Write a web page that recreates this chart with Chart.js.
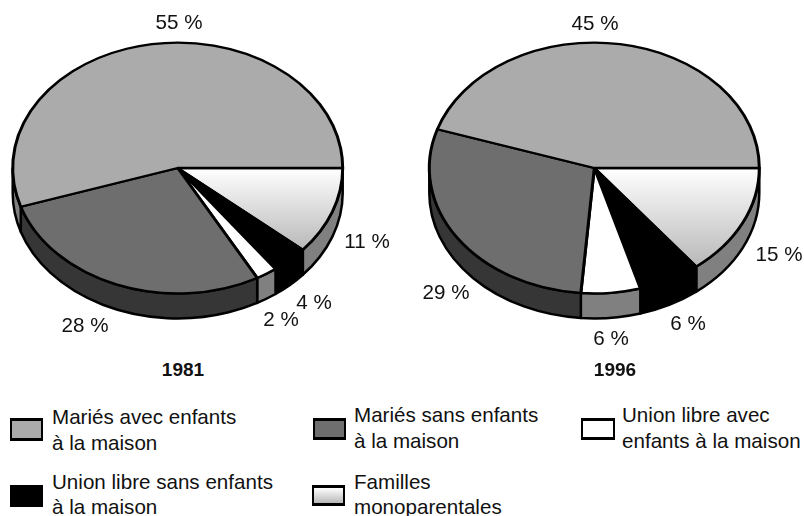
<!DOCTYPE html>
<html lang="fr">
<head>
<meta charset="utf-8">
<script src="https://cdn.jsdelivr.net/npm/chart.js@4"></script>
<style>
html,body{margin:0;padding:0;background:#fff;overflow:hidden}
#page{position:relative;width:804px;height:516px;font-family:"Liberation Sans",Arial,sans-serif;color:#111}
canvas{position:absolute;top:0}
.t{position:absolute;white-space:nowrap;font-size:20.6px;line-height:20px}
.c{transform:translate(-50%,-50%)}
.b{font-weight:bold;font-size:19px}
.sw{position:absolute;box-sizing:border-box;border:2px solid #000;border-top-width:3px;border-bottom-width:3px}
</style>
</head>
<body>
<div id="page">
<canvas id="c1" width="402" height="350" style="left:0"></canvas>
<canvas id="c2" width="402" height="350" style="left:402px"></canvas>
</div>
<script>
// Data
const categories = ["Mariés avec enfants à la maison","Mariés sans enfants à la maison","Union libre avec enfants à la maison","Union libre sans enfants à la maison","Familles monoparentales"];
const values1981 = [55, 28, 2.1, 3.6, 11.3];
const values1996 = [45, 28.7, 5.8, 6.1, 14.4];
const labels1981 = ["55 %","28 %","2 %","4 %","11 %"];
const labels1996 = ["45 %","29 %","6 %","6 %","15 %"];
const years = ["1981","1996"];

// Styles
const topColors = ["#ABABAB","#6E6E6E","#FFFFFF","#000000",null];
const wallColors = ["#808080","#363636","#808080","#000000","#808080"];
const squash = 0.76, depth = 25, topCy = 168, pieR = 165;

function gradFill(c){
  const vals = c.data.datasets[0].data;
  const cy = c.height/2;
  const total = vals.reduce((s,v)=>s+v,0);
  const h = pieR*Math.sin(vals[0]/total*2*Math.PI);
  const g = c.ctx.createLinearGradient(0,cy,0,cy+h);
  g.addColorStop(0,"#FFFFFF");
  g.addColorStop(1,"#B8B8B8");
  return g;
}

const tilt3d = {
  id:"tilt3d",
  beforeDatasetsDraw(chart){
    const ctx = chart.ctx, arcs = chart.getDatasetMeta(0).data;
    const n = arcs.length;
    ctx.save();
    ctx.lineWidth = 2.5;
    ctx.strokeStyle = "#000";
    ctx.lineJoin = "round";
    arcs.forEach((arc,i)=>{
      const p = arc.getProps(["x","startAngle","endAngle","outerRadius"]);
      const a0 = Math.max(p.startAngle,0), a1 = Math.min(p.endAngle,Math.PI);
      if(a1<=a0) return;
      const r = p.outerRadius;
      ctx.beginPath();
      ctx.ellipse(p.x,topCy,r,r*squash,0,a0,a1);
      ctx.ellipse(p.x,topCy+depth,r,r*squash,0,a1,a0,true);
      ctx.closePath();
      ctx.fillStyle = wallColors[n-1-i];
      ctx.fill();
      ctx.stroke();
    });
    const cy = arcs[0].y;
    ctx.translate(0,topCy);
    ctx.scale(1,squash);
    ctx.translate(0,-cy);
  },
  afterDatasetsDraw(chart){ chart.ctx.restore(); }
};

function makePie(id,values,padL,padR){
  const n = topColors.length;
  new Chart(document.getElementById(id),{
    type:"pie",
    data:{labels:categories.slice().reverse(),datasets:[{
      data:values.slice().reverse(),
      backgroundColor:(ctx)=>{
        const col = topColors[n-1-ctx.dataIndex];
        return col===null ? gradFill(ctx.chart) : (col||"#000");
      },
      borderColor:"#000",
      borderWidth:3,
      borderJoinStyle:"round",
      clip:false
    }]},
    options:{
      responsive:false,animation:false,events:[],rotation:90,
      layout:{padding:{left:padL,right:padR,top:8,bottom:8}},
      plugins:{legend:{display:false},tooltip:{enabled:false}}
    },
    plugins:[tilt3d]
  });
}
makePie("c1",values1981,11.2,57.8);
makePie("c2",values1996,25.8,43.2);

// Text and legend
const page = document.getElementById("page");
function text(s,x,y,cls){
  const d=document.createElement("div");
  d.className="t "+cls; d.textContent=s;
  d.style.left=x+"px"; d.style.top=y+"px";
  page.appendChild(d);
}
const spots1981=[[179,22],[85,325],[281,319],[314,302],[367,241]];
const spots1996=[[595,23],[446,292],[611,338],[688,323],[779,254]];
labels1981.forEach((s,i)=>text(s,spots1981[i][0],spots1981[i][1],"c"));
labels1996.forEach((s,i)=>text(s,spots1996[i][0],spots1996[i][1],"c"));
text(years[0],183,370,"c b");
text(years[1],615,370,"c b");

const legendLines=[["Mariés avec enfants","à la maison"],["Mariés sans enfants","à la maison"],["Union libre avec","enfants à la maison"],["Union libre sans enfants","à la maison"],["Familles","monoparentales"]];
const legendBoxes=[[10,418,33,23,52,417,443],[313,418,33,22,354,415,441],[581,418,34,22,622,415,441],[10,485,33,22,52,482,507],[312,485,33,21,354,482,507]];
const swatchFills=["#ABABAB","#6E6E6E","#FFFFFF","#000000","linear-gradient(#FFFFFF,#B8B8B8)"];
legendBoxes.forEach((b,i)=>{
  const s=document.createElement("div");
  s.className="sw";
  s.style.cssText=`left:${b[0]}px;top:${b[1]}px;width:${b[2]}px;height:${b[3]}px;background:${swatchFills[i]}`;
  page.appendChild(s);
  text(legendLines[i][0],b[4],b[5]-10,"");
  text(legendLines[i][1],b[4],b[6]-10,"");
});
</script>
</body>
</html>
